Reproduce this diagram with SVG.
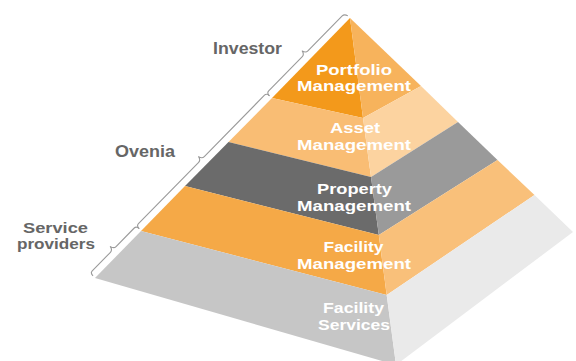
<svg xmlns="http://www.w3.org/2000/svg" width="576" height="361" viewBox="0 0 576 361">
<style>
.tier{font-family:"Liberation Sans",Arial,sans-serif;font-weight:bold;font-size:15.5px;fill:#ffffff;text-anchor:middle}
.lab{font-family:"Liberation Sans",Arial,sans-serif;font-weight:bold;font-size:16.5px;fill:#666666}
.lab2{font-family:"Liberation Sans",Arial,sans-serif;font-weight:bold;font-size:15.5px;fill:#666666}
.brace{fill:none;stroke:#9a9a9a;stroke-width:1.1;stroke-linejoin:round}
</style>
<rect width="576" height="361" fill="#ffffff"/>
<g id="tier-portfolio">
<polygon points="350,18 272,98 363,118" fill="#F3991B"/>
<polygon points="350,18 363,118 421,86" fill="#F7B35C"/>
<text class="tier" x="354" y="74.5" textLength="76" lengthAdjust="spacingAndGlyphs">Portfolio</text>
<text class="tier" x="354" y="90.5" textLength="114" lengthAdjust="spacingAndGlyphs">Management</text>
</g>
<g id="tier-asset">
<polygon points="272,98 228.5,142 371,177 363,118" fill="#F9BD74"/>
<polygon points="363,118 371,177 458,122 421,86" fill="#FCD3A0"/>
<text class="tier" x="355" y="132.7" textLength="50" lengthAdjust="spacingAndGlyphs">Asset</text>
<text class="tier" x="354" y="149.5" textLength="114" lengthAdjust="spacingAndGlyphs">Management</text>
</g>
<g id="tier-property">
<polygon points="228.5,142 185,186 378.8,235 371,177" fill="#6B6B6B"/>
<polygon points="371,177 378.8,235 497.5,160 458,122" fill="#9A9A9A"/>
<text class="tier" x="354.5" y="194.3" textLength="75" lengthAdjust="spacingAndGlyphs">Property</text>
<text class="tier" x="354" y="210.7" textLength="114" lengthAdjust="spacingAndGlyphs">Management</text>
</g>
<g id="tier-facility-management">
<polygon points="185,186 141,231 386.7,295 378.8,235" fill="#F5A947"/>
<polygon points="378.8,235 386.7,295 534.5,195 497.5,160" fill="#F9C07A"/>
<text class="tier" x="353.5" y="252" textLength="60" lengthAdjust="spacingAndGlyphs">Facility</text>
<text class="tier" x="354" y="268.5" textLength="114" lengthAdjust="spacingAndGlyphs">Management</text>
</g>
<g id="tier-facility-services">
<polygon points="141,231 95,278 396,365 386.7,295" fill="#C6C6C6"/>
<polygon points="386.7,295 396,365 573,232 534.5,195" fill="#EAEAEA"/>
<text class="tier" x="353.5" y="313" textLength="61" lengthAdjust="spacingAndGlyphs">Facility</text>
<text class="tier" x="354" y="330" textLength="72" lengthAdjust="spacingAndGlyphs">Services</text>
</g>
<g id="connectors" transform="translate(350,18) rotate(134.44)">
<path class="brace" d="M0,3 Q1,7 4,7 L53,7 Q56,7 57,11 Q58,7 61,7 L109,7 Q112,7 112,3"/>
<path class="brace" d="M112,3 Q112,7 115,7 L201,7 Q204,7 205,11 Q206,7 209,7 L295,7 Q298,7 298,3"/>
<path class="brace" d="M298,3 Q298,7 301,7 L327,7 Q330,7 331,11 Q332,7 335,7 L361,7 Q364,7 364,3"/>
</g>
<g id="label-investor"><text class="lab" x="213" y="54" textLength="69" lengthAdjust="spacingAndGlyphs">Investor</text></g>
<g id="label-ovenia"><text class="lab" x="115" y="157" textLength="60" lengthAdjust="spacingAndGlyphs">Ovenia</text></g>
<g id="label-service-providers">
<text class="lab2" x="23" y="232.5" textLength="65" lengthAdjust="spacingAndGlyphs">Service</text>
<text class="lab2" x="17" y="248.5" textLength="78" lengthAdjust="spacingAndGlyphs">providers</text>
</g>
</svg>
